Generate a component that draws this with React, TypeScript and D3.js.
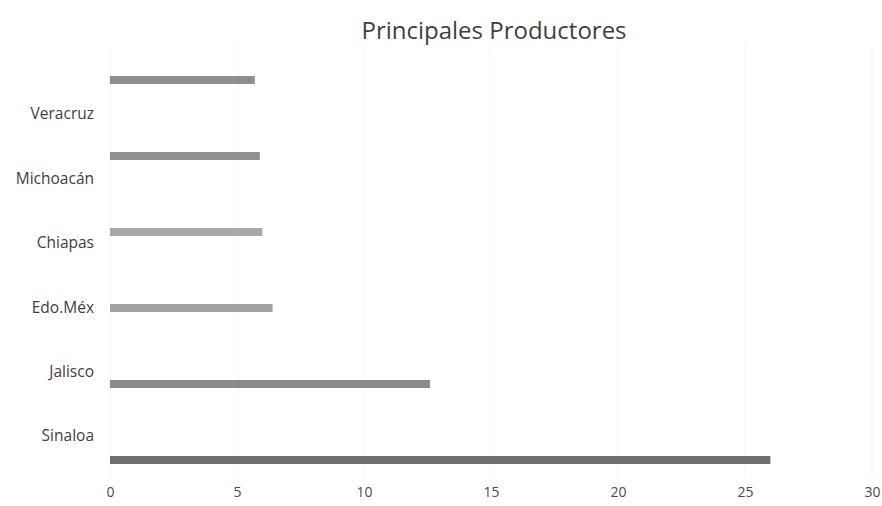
import React, { useEffect, useRef } from "react";
import * as d3 from "d3";

// Producers, listed bottom-to-top as in the source table
const states = ["Sinaloa", "Jalisco", "Edo.Méx", "Chiapas", "Michoacán", "Veracruz"];
const production = [26, 12.6, 6.4, 6.0, 5.9, 5.7];
const xTicks = [0, 5, 10, 15, 20, 25, 30];
const barColors = ["#6f6f6f", "#8b8b8b", "#a3a3a3", "#a8a8a8", "#909090", "#8e8e8e"];

const W = 882;
const H = 506;
const FONT = "'Open Sans', 'Noto Sans', sans-serif";

export default function App() {
  const ref = useRef<SVGSVGElement | null>(null);

  useEffect(() => {
    const svg = d3.select(ref.current);
    svg.selectAll("*").remove();

    const x = d3.scaleLinear().domain([0, 30]).range([110, 872]);
    // bars, top (Veracruz) to bottom (Sinaloa)
    const order = states.slice().reverse();
    const yBar = d3.scalePoint<string>().domain(order).range([80, 460]);
    const yLabel = d3.scalePoint<string>().domain(order).range([114, 436]);

    svg.append("rect").attr("width", W).attr("height", H).attr("fill", "#ffffff");

    // faint vertical gridlines
    svg
      .append("g")
      .selectAll("line")
      .data(xTicks)
      .join("line")
      .attr("x1", (d) => x(d))
      .attr("x2", (d) => x(d))
      .attr("y1", 45)
      .attr("y2", 478)
      .attr("stroke", "#f5f5f5")
      .attr("stroke-width", 1);

    // title
    svg
      .append("text")
      .attr("x", 494)
      .attr("y", 39)
      .attr("text-anchor", "middle")
      .attr("font-family", FONT)
      .attr("font-size", 24)
      .attr("fill", "#3f3f3f")
      .text("Principales Productores");

    // bars
    svg
      .append("g")
      .selectAll("rect")
      .data(states.map((s, i) => ({ s, v: production[i], c: barColors[i] })))
      .join("rect")
      .attr("x", x(0))
      .attr("y", (d) => (yBar(d.s) as number) - 4)
      .attr("width", (d) => x(d.v) - x(0))
      .attr("height", 8)
      .attr("fill", (d) => d.c);

    // category axis
    const yAxis = svg
      .append("g")
      .attr("transform", "translate(94,0)")
      .call(d3.axisLeft(yLabel).tickSize(0).tickPadding(0));
    yAxis.select(".domain").remove();
    yAxis
      .selectAll("text")
      .attr("font-family", FONT)
      .attr("font-size", 15.5)
      .attr("fill", "#404040");

    // value axis
    const xAxis = svg
      .append("g")
      .attr("transform", "translate(0,487)")
      .call(
        d3
          .axisBottom(x)
          .tickValues(xTicks)
          .tickSize(0)
          .tickPadding(0)
          .tickFormat(d3.format("d"))
      );
    xAxis.select(".domain").remove();
    xAxis
      .selectAll("text")
      .attr("font-family", FONT)
      .attr("font-size", 14)
      .attr("fill", "#4a4a4a");
  }, []);

  return (
    <svg
      ref={ref}
      width={W}
      height={H}
      style={{ position: "absolute", left: 0, top: 0, display: "block" }}
    />
  );
}
